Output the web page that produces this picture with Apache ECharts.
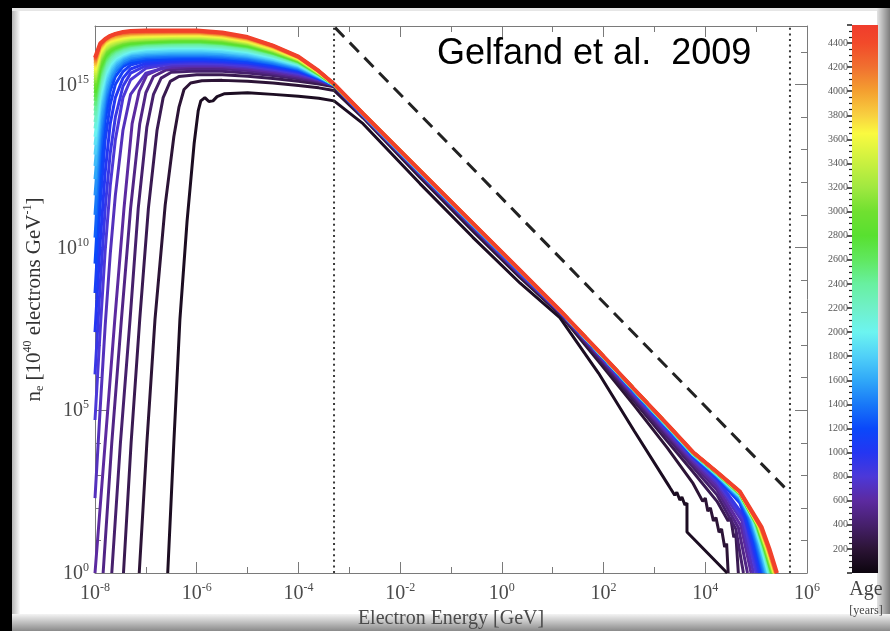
<!DOCTYPE html>
<html><head><meta charset="utf-8">
<script src="https://cdn.jsdelivr.net/npm/echarts@6/dist/echarts.min.js"></script>
<style>html,body{margin:0;padding:0;background:#000;}#c{width:890px;height:631px;}</style>
</head><body><div id="c"></div>
<script>
// ---------------- DATA (log10 values) ----------------
const ages = [100,200,300,400,500,600,700,800,900,1000,1100,1200,1300,1400,1500,1600,1700,1800,1900,2000,2100,2200,2300,2400,2500,2600,2700,2800,2900,3000,3100,3200,3300,3400,3500,3600,3700,3800,3900,4000,4100,4200,4300,4400,4500];
const xTickExp = [-8,-6,-4,-2,0,2,4,6];
const yTickExp = [0,5,10,15];
const ageTicks = [200,400,600,800,1000,1200,1400,1600,1800,2000,2200,2400,2600,2800,3000,3200,3400,3600,3800,4000,4200,4400];
const ageMax = 4550;

// young curves (ages 100-600): [log10 E, log10 N] up to the break
const youngHeads = [
 [[-6.57,0],[-6.45,4],[-6.33,7.8],[-6.19,10.8],[-6.05,13.2],[-5.97,14.2],[-5.92,14.5],[-5.84,14.6],[-5.76,14.48],[-5.68,14.5],[-5.6,14.63],[-5.45,14.72],[-5.0,14.75],[-4.5,14.7],[-4.0,14.64],[-3.6,14.58],[-3.3,14.5]],
 [[-7.13,0],[-6.98,4],[-6.82,7.8],[-6.62,11.3],[-6.45,13.4],[-6.35,14.3],[-6.25,14.85],[-6.12,15.05],[-5.9,15.12],[-5.5,15.13],[-5.0,15.1],[-4.5,15.05],[-4.0,14.97],[-3.6,14.9],[-3.3,14.82]],
 [[-7.44,0],[-7.29,4],[-7.12,7.8],[-6.95,11.2],[-6.78,13.6],[-6.66,14.6],[-6.52,15.1],[-6.35,15.25],[-6.0,15.3],[-5.5,15.3],[-5.0,15.26],[-4.5,15.19],[-4.0,15.1],[-3.6,15.02],[-3.3,14.93]],
 [[-7.67,0],[-7.5,4],[-7.31,7.8],[-7.15,11.2],[-6.98,13.7],[-6.85,14.7],[-6.7,15.2],[-6.5,15.38],[-6.0,15.42],[-5.5,15.41],[-5.0,15.36],[-4.5,15.28],[-4.0,15.18],[-3.6,15.08],[-3.3,14.96]],
 [[-7.84,0],[-7.67,4],[-7.48,7.8],[-7.3,11.2],[-7.12,13.8],[-7.0,14.75],[-6.85,15.25],[-6.6,15.45],[-6.0,15.5],[-5.5,15.49],[-5.0,15.43],[-4.5,15.34],[-4.0,15.22],[-3.6,15.1],[-3.3,14.97]],
 [[-8,0],[-7.8,4],[-7.61,7.8],[-7.43,11.2],[-7.27,13.8],[-7.13,14.8],[-6.98,15.3],[-6.7,15.5],[-6.0,15.56],[-5.5,15.55],[-5.0,15.49],[-4.5,15.39],[-4.0,15.26],[-3.6,15.13],[-3.3,14.98]]
];

// older curves (ages 700-4500): log10 N on a shared log10 E grid
const headE = [-8,-7.9,-7.8,-7.7,-7.6,-7.45,-7.3,-7.0,-6.5,-6.0,-5.5,-5.0,-4.5,-4.0,-3.6,-3.3];
const oldHeads = [
 [2.3,5.0,7.6,9.8,11.6,13.6,14.7,15.35,15.57,15.6,15.59,15.53,15.43,15.3,15.15,14.98],
 [4.7,7.4,9.9,11.9,13.3,14.6,15.15,15.5,15.63,15.65,15.63,15.57,15.47,15.34,15.17,14.98],
 [6.1,8.8,11.2,12.9,14.0,14.95,15.35,15.58,15.68,15.7,15.68,15.62,15.51,15.37,15.19,14.98],
 [7.4,10.1,12.3,13.8,14.6,15.2,15.48,15.65,15.72,15.74,15.71,15.66,15.54,15.4,15.18,14.98],
 [8.6,11.3,13.3,14.4,15.0,15.4,15.6,15.72,15.76,15.78,15.75,15.69,15.58,15.43,15.19,14.98],
 [9.5,12.2,13.9,14.8,15.25,15.55,15.68,15.77,15.8,15.82,15.79,15.73,15.61,15.45,15.2,14.99],
 [10.3,12.9,14.3,15.05,15.4,15.63,15.74,15.82,15.85,15.86,15.83,15.76,15.64,15.47,15.21,14.99],
 [11.0,13.3,14.5,15.1,15.43,15.67,15.79,15.86,15.89,15.9,15.87,15.8,15.66,15.49,15.22,14.99],
 [11.6,13.6,14.65,15.18,15.48,15.72,15.83,15.9,15.93,15.94,15.91,15.84,15.7,15.52,15.23,14.99],
 [12.1,13.9,14.82,15.3,15.57,15.78,15.88,15.94,15.97,15.98,15.95,15.87,15.73,15.54,15.24,14.99],
 [12.5,14.15,14.96,15.39,15.64,15.83,15.93,15.98,16.01,16.02,15.99,15.9,15.76,15.56,15.25,15.0],
 [12.85,14.35,15.1,15.48,15.7,15.87,15.96,16.02,16.05,16.06,16.02,15.94,15.78,15.58,15.26,15.0],
 [13.15,14.5,15.2,15.55,15.75,15.9,15.99,16.06,16.09,16.1,16.06,15.98,15.81,15.6,15.27,15.0],
 [13.4,14.65,15.3,15.62,15.8,15.94,16.03,16.1,16.13,16.14,16.1,16.01,15.84,15.62,15.28,15.0],
 [13.65,14.8,15.4,15.69,15.85,15.98,16.07,16.13,16.16,16.17,16.13,16.04,15.86,15.63,15.28,15.0],
 [13.85,14.93,15.48,15.75,15.9,16.02,16.1,16.16,16.19,16.2,16.16,16.06,15.88,15.65,15.29,15.0],
 [14.05,15.05,15.56,15.81,15.95,16.06,16.13,16.19,16.22,16.23,16.19,16.09,15.9,15.66,15.3,15.0],
 [14.2,15.15,15.63,15.86,15.99,16.1,16.16,16.22,16.25,16.26,16.22,16.12,15.93,15.68,15.31,15.0],
 [14.35,15.25,15.7,15.91,16.03,16.13,16.19,16.25,16.28,16.29,16.25,16.14,15.95,15.69,15.31,15.0],
 [14.5,15.35,15.76,15.96,16.07,16.16,16.22,16.27,16.3,16.31,16.26,16.16,15.96,15.7,15.32,15.0],
 [14.62,15.43,15.82,16.0,16.1,16.19,16.25,16.29,16.32,16.33,16.28,16.18,15.97,15.71,15.32,15.0],
 [14.74,15.51,15.87,16.04,16.13,16.22,16.27,16.31,16.34,16.35,16.3,16.19,15.99,15.72,15.33,15.0],
 [14.85,15.59,15.93,16.08,16.17,16.25,16.3,16.34,16.37,16.38,16.33,16.22,16.01,15.73,15.33,15.0],
 [14.95,15.66,15.98,16.12,16.2,16.28,16.33,16.36,16.39,16.4,16.35,16.24,16.02,15.74,15.34,15.0],
 [15.05,15.73,16.03,16.16,16.23,16.31,16.35,16.38,16.41,16.42,16.37,16.25,16.03,15.75,15.35,15.01],
 [15.14,15.79,16.07,16.19,16.26,16.33,16.37,16.4,16.43,16.44,16.39,16.27,16.05,15.76,15.35,15.01],
 [15.22,15.85,16.11,16.23,16.29,16.36,16.4,16.43,16.45,16.46,16.41,16.29,16.06,15.77,15.36,15.01],
 [15.3,15.9,16.15,16.26,16.32,16.38,16.42,16.45,16.47,16.48,16.43,16.3,16.08,15.78,15.37,15.01],
 [15.37,15.95,16.19,16.3,16.35,16.41,16.45,16.47,16.49,16.5,16.45,16.32,16.09,15.79,15.37,15.01],
 [15.44,16.0,16.23,16.33,16.38,16.44,16.47,16.49,16.51,16.52,16.47,16.34,16.11,15.8,15.38,15.01],
 [15.5,16.04,16.26,16.36,16.41,16.46,16.49,16.51,16.53,16.54,16.49,16.36,16.12,15.81,15.38,15.01],
 [15.56,16.08,16.29,16.39,16.44,16.49,16.52,16.54,16.55,16.56,16.5,16.37,16.13,15.82,15.39,15.01],
 [15.61,16.12,16.32,16.42,16.47,16.51,16.54,16.56,16.57,16.58,16.52,16.39,16.15,15.83,15.4,15.02],
 [15.66,16.15,16.34,16.44,16.5,16.54,16.57,16.58,16.59,16.6,16.54,16.41,16.16,15.84,15.4,15.02],
 [15.7,16.18,16.36,16.46,16.52,16.56,16.58,16.6,16.6,16.61,16.55,16.42,16.17,15.84,15.41,15.02],
 [15.74,16.21,16.38,16.48,16.54,16.58,16.6,16.61,16.62,16.62,16.56,16.43,16.18,15.85,15.41,15.02],
 [15.77,16.23,16.39,16.49,16.55,16.6,16.62,16.63,16.64,16.64,16.58,16.44,16.19,15.85,15.42,15.02],
 [15.8,16.24,16.39,16.5,16.56,16.61,16.63,16.64,16.65,16.65,16.59,16.45,16.2,15.86,15.42,15.02],
 [15.83,16.26,16.4,16.5,16.56,16.62,16.65,16.66,16.66,16.66,16.6,16.46,16.2,15.86,15.42,15.02]
];

// power-law part beyond the break, shared log10 E grid
const tailE = [-2.73,-1.61,-0.57,0.36,1.14,1.9,2.6,3.25];
const youngTails = [
 [13.8,11.96,10.31,8.9,7.84,6.14,4.37,2.76],
 [13.98,12.15,10.5,9.07,7.95,6.5,5.15,3.85],
 [14.0,12.2,10.56,9.12,7.98,6.58,5.28,4.05],
 [14.02,12.23,10.6,9.15,8.0,6.64,5.36,4.17],
 [14.03,12.25,10.62,9.17,8.01,6.68,5.42,4.25],
 [14.04,12.26,10.63,9.18,8.02,6.7,5.46,4.3],
 [14.05,12.27,10.65,9.2,8.03,6.72,5.49,4.35],
 [14.06,12.28,10.66,9.21,8.03,6.74,5.52,4.39],
 [14.06,12.29,10.67,9.22,8.04,6.75,5.54,4.42]
];
const tailBlue = [14.07,12.3,10.68,9.24,8.05,6.77,5.57,4.47];
const tailCyan = [14.09,12.33,10.71,9.27,8.06,6.79,5.61,4.52];
const tailRed  = [14.11,12.36,10.74,9.29,8.07,6.82,5.65,4.57];

// high-energy ends of each curve
const ends = [
 [[3.31,2.61],[3.34,2.64],[3.40,2.39],[3.44,2.48],[3.50,2.24],[3.54,2.33],[3.60,2.09],[3.64,2.15],[3.64,1.26],[4.43,0]],
 [[3.76,2.75],[3.95,2.2],[4.0,2.3],[4.05,1.9],[4.1,2.0],[4.16,1.6],[4.21,1.7],[4.27,1.25],[4.32,1.35],[4.38,0.8],[4.42,0.9],[4.45,0]],
 [[3.76,3.1],[4.23,2.2],[4.45,1.6],[4.5,1.7],[4.56,1.1],[4.6,1.2],[4.65,0]],
 [[3.76,3.25],[4.23,2.4],[4.6,1.35],[4.75,0]],
 [[3.76,3.35],[4.23,2.55],[4.65,1.4],[4.83,0]],
 [[3.76,3.42],[4.23,2.65],[4.7,1.45],[4.9,0]],
 [[3.76,3.47],[4.23,2.75],[4.72,1.6],[4.95,0]],
 [[3.76,3.52],[4.23,2.82],[4.75,1.65],[5.0,0]],
 [[3.76,3.55],[4.23,2.88],[4.78,1.7],[5.04,0]],
 [[3.76,3.58],[4.23,2.93],[4.68,2.15],[4.77,1.75],[4.92,0.95],[5.07,0]],
 [[3.76,3.59],[4.23,2.95],[4.68,2.18],[4.8,1.75],[4.95,0.95],[5.1,0]],
 [[3.76,3.6],[4.23,2.96],[4.68,2.22],[4.82,1.75],[4.97,0.95],[5.12,0]],
 [[3.76,3.61],[4.23,2.97],[4.68,2.25],[4.84,1.74],[4.99,0.94],[5.14,0]],
 [[3.76,3.62],[4.23,2.98],[4.68,2.27],[4.86,1.72],[5.01,0.93],[5.16,0]],
 [[3.76,3.63],[4.23,2.99],[4.68,2.3],[4.88,1.7],[5.03,0.92],[5.18,0]],
 [[3.76,3.64],[4.23,3.0],[4.68,2.32],[4.9,1.68],[5.05,0.9],[5.2,0]],
 [[3.76,3.64],[4.23,3.01],[4.68,2.34],[4.91,1.66],[5.06,0.89],[5.21,0]],
 [[3.76,3.65],[4.23,3.02],[4.68,2.35],[4.93,1.64],[5.08,0.88],[5.23,0]],
 [[3.76,3.65],[4.23,3.03],[4.68,2.37],[4.94,1.62],[5.09,0.87],[5.24,0]],
 [[3.76,3.66],[4.23,3.04],[4.68,2.38],[4.95,1.6],[5.1,0.86],[5.25,0]],
 [[3.76,3.66],[4.23,3.04],[4.68,2.39],[4.96,1.58],[5.11,0.85],[5.26,0]],
 [[3.76,3.67],[4.23,3.05],[4.68,2.4],[4.97,1.56],[5.12,0.84],[5.27,0]],
 [[3.76,3.67],[4.23,3.05],[4.68,2.41],[4.98,1.55],[5.13,0.83],[5.28,0]],
 [[3.76,3.67],[4.23,3.06],[4.68,2.42],[4.99,1.54],[5.14,0.82],[5.29,0]],
 [[3.76,3.68],[4.23,3.06],[4.68,2.43],[5.0,1.53],[5.15,0.81],[5.3,0]],
 [[3.76,3.68],[4.23,3.07],[4.68,2.43],[5.0,1.52],[5.15,0.8],[5.3,0]],
 [[3.76,3.68],[4.23,3.07],[4.68,2.44],[5.01,1.51],[5.16,0.8],[5.31,0]],
 [[3.76,3.69],[4.23,3.07],[4.68,2.45],[5.01,1.5],[5.16,0.79],[5.31,0]],
 [[3.76,3.69],[4.23,3.08],[4.68,2.45],[5.02,1.49],[5.17,0.79],[5.32,0]],
 [[3.76,3.69],[4.23,3.08],[4.68,2.46],[5.03,1.48],[5.18,0.78],[5.33,0]],
 [[3.76,3.7],[4.23,3.08],[4.68,2.46],[5.03,1.47],[5.18,0.78],[5.33,0]],
 [[3.76,3.7],[4.23,3.08],[4.68,2.47],[5.04,1.46],[5.19,0.77],[5.34,0]],
 [[3.76,3.7],[4.23,3.09],[4.68,2.47],[5.05,1.45],[5.2,0.77],[5.35,0]],
 [[3.76,3.7],[4.23,3.09],[4.68,2.47],[5.05,1.44],[5.2,0.77],[5.35,0]],
 [[3.76,3.7],[4.23,3.09],[4.68,2.48],[5.06,1.43],[5.21,0.76],[5.36,0]],
 [[3.76,3.7],[4.23,3.09],[4.68,2.48],[5.06,1.43],[5.21,0.76],[5.36,0]],
 [[3.76,3.7],[4.23,3.09],[4.68,2.48],[5.07,1.42],[5.22,0.76],[5.37,0]],
 [[3.76,3.71],[4.23,3.1],[4.68,2.49],[5.07,1.42],[5.22,0.76],[5.37,0]],
 [[3.76,3.71],[4.23,3.1],[4.68,2.49],[5.08,1.41],[5.23,0.75],[5.38,0]],
 [[3.76,3.71],[4.23,3.1],[4.68,2.49],[5.08,1.41],[5.23,0.75],[5.38,0]],
 [[3.76,3.71],[4.23,3.1],[4.68,2.49],[5.09,1.4],[5.24,0.75],[5.39,0]],
 [[3.76,3.71],[4.23,3.1],[4.68,2.5],[5.09,1.4],[5.24,0.75],[5.39,0]],
 [[3.76,3.71],[4.23,3.1],[4.68,2.5],[5.1,1.4],[5.25,0.75],[5.4,0]],
 [[3.76,3.71],[4.23,3.1],[4.68,2.5],[5.1,1.4],[5.25,0.75],[5.4,0]],
 [[3.76,3.71],[4.23,3.1],[4.68,2.5],[5.11,1.4],[5.26,0.75],[5.41,0]]
];

const breakLine = [[-3.3,0],[-3.3,16.8]];
const maxLine = [[5.665,0],[5.665,16.8]];
const slopeLine = [[-3.28,16.75],[5.67,2.45]];

// ---------------- STYLE ----------------
const stops = [[0,'#0c050e'],[200,'#2c1436'],[400,'#46206c'],[600,'#5c2aa0'],[800,'#4c38d8'],[1000,'#2436f2'],[1200,'#0a48fa'],[1400,'#1878f8'],[1600,'#30a8f8'],[1800,'#50d0f8'],[2000,'#6cf4f0'],[2200,'#70f0c8'],[2400,'#68f0a0'],[2600,'#60e860'],[2800,'#58e030'],[3000,'#70e030'],[3200,'#a0e840'],[3400,'#c8f040'],[3650,'#fafa40'],[3800,'#f8d040'],[4000,'#f4a030'],[4200,'#f07030'],[4400,'#f24a2a'],[4550,'#f03c2c']];
function hex(c){return [parseInt(c.slice(1,3),16),parseInt(c.slice(3,5),16),parseInt(c.slice(5,7),16)];}
function colorAt(a){
  for(let i=1;i<stops.length;i++){
    if(a<=stops[i][0]){
      const t=(a-stops[i-1][0])/(stops[i][0]-stops[i-1][0]);
      const c0=hex(stops[i-1][1]),c1=hex(stops[i][1]);
      return 'rgb('+c0.map((v,k)=>Math.round(v+(c1[k]-v)*t)).join(',')+')';
    }
  }
  return stops[stops.length-1][1];
}
const serif = 'Liberation Serif, DejaVu Serif, serif';
const lblColor = '#4a4a4a';
const richTick = {
  b:{fontSize:20,fontFamily:serif,color:lblColor,lineHeight:22,verticalAlign:'bottom'},
  s:{fontSize:12,fontFamily:serif,color:lblColor,lineHeight:13,verticalAlign:'top'}
};

const series = [];
ages.forEach((age,i)=>{
  let pts = [];
  if (i < 6) youngHeads[i].forEach(p=>pts.push([p[0],p[1]]));
  else oldHeads[i-6].forEach((v,j)=>pts.push([headE[j],v]));
  const tail = i < 9 ? youngTails[i] : (age < 1500 ? tailBlue : (age < 2500 ? tailCyan : tailRed));
  tail.forEach((v,j)=>pts.push([tailE[j],v]));
  ends[i].forEach(p=>pts.push([p[0],p[1]]));
  series.push({type:'line',xAxisIndex:0,yAxisIndex:0,data:pts,symbol:'none',showSymbol:false,silent:true,
    lineStyle:{color:colorAt(age),width:age===4500?4:3},z:2+i/100});
});
series.push({type:'line',xAxisIndex:0,yAxisIndex:0,data:breakLine,symbol:'none',silent:true,z:5,lineStyle:{color:'#3a3a3a',width:2,type:[2,3.6]}});
series.push({type:'line',xAxisIndex:0,yAxisIndex:0,data:maxLine,symbol:'none',silent:true,z:5,lineStyle:{color:'#3a3a3a',width:2,type:[2,3.6]}});
series.push({type:'line',xAxisIndex:0,yAxisIndex:0,data:slopeLine,symbol:'none',silent:true,z:5,lineStyle:{color:'#222',width:3,type:[13,8]}});
series.push({type:'bar',xAxisIndex:2,yAxisIndex:4,data:[ageMax],barWidth:26,silent:true,
  itemStyle:{color:new echarts.graphic.LinearGradient(0,1,0,0,stops.map(s=>({offset:s[0]/ageMax,color:s[1]})))}});

const axisGray = '#7a7a7a';
const noZeroLine = {show:true,onZero:false,lineStyle:{color:axisGray,width:1}};
const chart = echarts.init(document.getElementById('c'),null,{renderer:'canvas'});
chart.setOption({
  animation:false,
  backgroundColor:'#000',
  title:{text:'Gelfand et al.  2009',left:437,top:36,padding:0,textStyle:{fontSize:36,fontWeight:'normal',fontFamily:'Liberation Sans, Arial, sans-serif',color:'#000'}},
  graphic:[
    {type:'rect',z:-20,silent:true,shape:{x:12,y:8,width:878,height:623},style:{fill:'#fff'}},
    {type:'rect',z:-19,silent:true,shape:{x:12,y:8,width:8,height:623},style:{fill:new echarts.graphic.LinearGradient(0,0,1,0,[{offset:0,color:'#b4b4b4'},{offset:1,color:'#fafafa'}])}},
    {type:'rect',z:-19,silent:true,shape:{x:12,y:8,width:878,height:3},style:{fill:'#e6e6e6'}},
    {type:'rect',z:-18,silent:true,shape:{x:877,y:8,width:13,height:623},style:{fill:new echarts.graphic.LinearGradient(0,0,1,0,[{offset:0,color:'#e4e4e4'},{offset:1,color:'#7c7c7c'}])}},
    {type:'rect',z:-17,silent:true,shape:{x:12,y:614,width:878,height:17},style:{fill:new echarts.graphic.LinearGradient(0,0,0,1,[{offset:0,color:'#f4f4f4'},{offset:1,color:'#8a8a8a'}])}},
    {type:'text',z:10,silent:true,style:{text:'Age',x:866,y:590,align:'center',verticalAlign:'middle',font:'20px '+serif,fill:'#444'}},
    {type:'text',z:10,silent:true,style:{text:'[years]',x:866,y:611,align:'center',verticalAlign:'middle',font:'12px '+serif,fill:'#444'}}
  ],
  grid:[
    {left:95,top:26,width:712,height:547,containLabel:false,outerBoundsMode:'none'},
    {left:852,top:25,width:26,height:548,containLabel:false,outerBoundsMode:'none'}
  ],
  xAxis:[
    {gridIndex:0,type:'value',min:-8,max:6,interval:2,position:'bottom',
     axisLine:noZeroLine,
     axisTick:{show:true,inside:true,length:11,lineStyle:{color:axisGray}},
     minorTick:{show:true,splitNumber:2,length:6,lineStyle:{color:axisGray}},
     splitLine:{show:false},
     axisLabel:{margin:9,formatter:v=>xTickExp.includes(v)?'{b|10}{s|'+v+'}':'',rich:richTick},
     name:'Electron Energy [GeV]',nameLocation:'middle',nameGap:34,
     nameTextStyle:{fontSize:20,fontFamily:serif,color:lblColor}},
    {gridIndex:0,type:'value',min:-8,max:6,interval:2,position:'top',
     axisLine:noZeroLine,
     axisTick:{show:true,inside:true,length:11,lineStyle:{color:axisGray}},
     minorTick:{show:true,splitNumber:2,length:6,lineStyle:{color:axisGray}},
     splitLine:{show:false},axisLabel:{show:false}},
    {gridIndex:1,type:'category',data:['age'],show:false}
  ],
  yAxis:[
    {gridIndex:0,type:'value',min:0,max:16.8,interval:5,position:'left',
     axisLine:noZeroLine,
     axisTick:{show:true,inside:true,length:12,lineStyle:{color:axisGray}},
     splitLine:{show:false},
     axisLabel:{margin:6,formatter:v=>yTickExp.includes(v)?'{b|10}{s|'+v+'}':'',rich:richTick},
     name:'{t|n}{d|e}{t| [10}{u|40}{t| electrons GeV}{u|-1}{t|]}',nameLocation:'middle',nameGap:44,nameRotate:90,
     nameTextStyle:{rich:{
       t:{fontSize:21,fontFamily:serif,color:'#333',lineHeight:24,verticalAlign:'middle'},
       d:{fontSize:12,fontFamily:serif,color:'#333',lineHeight:13,verticalAlign:'bottom'},
       u:{fontSize:12,fontFamily:serif,color:'#333',lineHeight:13,verticalAlign:'top'}}}},
    {gridIndex:0,type:'value',min:0,max:16.8,interval:1,position:'left',
     axisLine:{show:false,onZero:false},axisTick:{show:true,inside:true,length:6,lineStyle:{color:axisGray}},
     splitLine:{show:false},axisLabel:{show:false}},
    {gridIndex:0,type:'value',min:0,max:16.8,interval:5,position:'right',
     axisLine:noZeroLine,
     axisTick:{show:true,inside:true,length:12,lineStyle:{color:axisGray}},
     splitLine:{show:false},axisLabel:{show:false}},
    {gridIndex:0,type:'value',min:0,max:16.8,interval:1,position:'right',
     axisLine:{show:false,onZero:false},axisTick:{show:true,inside:true,length:6,lineStyle:{color:axisGray}},
     splitLine:{show:false},axisLabel:{show:false}},
    {gridIndex:1,type:'value',min:0,max:ageMax,interval:200,position:'left',z:5,
     axisLine:{show:false,onZero:false},
     axisTick:{show:true,inside:false,length:5,lineStyle:{color:'#222',width:1.5}},
     minorTick:{show:true,splitNumber:4,length:3,lineStyle:{color:'#222',width:1.2}},
     splitLine:{show:false},
     axisLabel:{margin:4,fontSize:10,fontFamily:serif,color:'#555',formatter:v=>ageTicks.includes(v)?String(v):''}}
  ],
  series:series
});
</script></body></html>
